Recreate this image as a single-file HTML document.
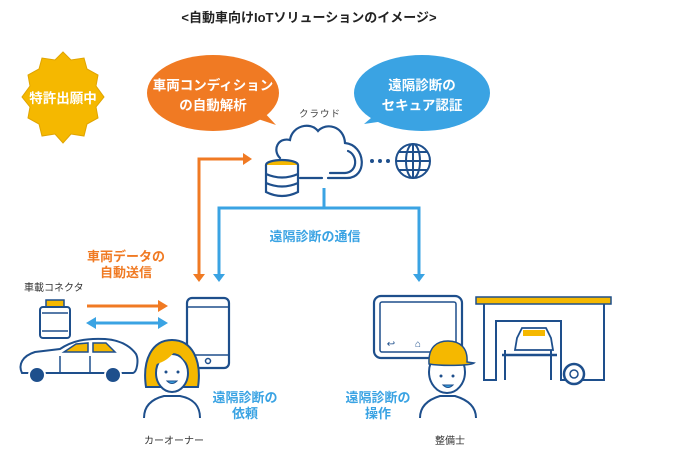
<!DOCTYPE html>
<html><head><meta charset="utf-8"><style>
body{margin:0;background:#fff;}
svg{display:block;font-family:"Liberation Sans","Noto Sans CJK JP",sans-serif;}
</style></head><body>
<svg width="680" height="466" viewBox="0 0 680 466" xmlns="http://www.w3.org/2000/svg">
<text x="309" y="22" font-size="13" font-weight="bold" text-anchor="middle" fill="#222">&lt;自動車向けIoTソリューションのイメージ&gt;</text>

<!-- badge -->
<polygon fill="#f5b800" stroke="#e0a400" points="
63,52 71,60 84,58 87,69 98,75 96,86 104,97 96,107 98,118 87,124 84,136 71,134 63,143 55,134 42,136 39,124 28,118 30,107 22,97 30,86 28,75 39,69 42,58 55,60"/>
<text x="63" y="103" font-size="13.5" font-weight="bold" fill="#fff" text-anchor="middle">特許出願中</text>

<!-- orange bubble -->
<ellipse cx="213" cy="93" rx="66" ry="38" fill="#f07a23"/>
<path d="M255,118 L276,125 L262,110z" fill="#f07a23"/>
<text x="213" y="90" font-size="13.5" font-weight="bold" fill="#fff" text-anchor="middle">車両コンディション</text>
<text x="213" y="110" font-size="13.5" font-weight="bold" fill="#fff" text-anchor="middle">の自動解析</text>

<!-- blue bubble -->
<ellipse cx="422" cy="93" rx="68" ry="38" fill="#3aa3e3"/>
<path d="M378,112 L364,124 L392,120z" fill="#3aa3e3"/>
<text x="422" y="90" font-size="13.5" font-weight="bold" fill="#fff" text-anchor="middle">遠隔診断の</text>
<text x="422" y="110" font-size="13.5" font-weight="bold" fill="#fff" text-anchor="middle">セキュア認証</text>

<text x="320" y="117" font-size="9.5" fill="#444" text-anchor="middle" letter-spacing="1">クラウド</text>

<!-- cloud -->
<g fill="none" stroke="#1e4f8c" stroke-width="2.2" stroke-linecap="round">
<path d="M280,158 C272,150 278,137 290,140 C292,126 310,121 318,131 C326,122 344,126 345,143 C366,145 368,178 347,178 L328,178"/>
<path d="M348,151 C358,155 358,172 345,173 L330,173"/>
<line x1="300" y1="178" x2="322" y2="178"/>
</g>
<g stroke="#1e4f8c" stroke-width="2.2">
<ellipse cx="282" cy="165" rx="16" ry="5" fill="#f5b800"/>
<path d="M266,165 L266,192 Q282,200 298,192 L298,165" fill="#fff"/>
<path d="M266,174 Q282,181 298,174 M266,183 Q282,190 298,183" fill="none"/>
</g>
<g fill="#1e4f8c"><circle cx="372" cy="161" r="2"/><circle cx="380" cy="161" r="2"/><circle cx="388" cy="161" r="2"/></g>
<g fill="none" stroke="#1e4f8c" stroke-width="2">
<circle cx="413" cy="161" r="17"/>
<ellipse cx="413" cy="161" rx="7" ry="17"/>
<line x1="413" y1="144" x2="413" y2="178"/>
<line x1="396" y1="161" x2="430" y2="161"/>
<path d="M399,152 H427 M399,170 H427"/>
</g>

<!-- arrows -->
<polyline points="199,276 199,159 244,159" fill="none" stroke="#f07a23" stroke-width="3"/>
<path d="M243,153 L252,159 L243,165z" fill="#f07a23"/>
<path d="M193,274 L205,274 L199,282z" fill="#f07a23"/>
<g fill="none" stroke="#3aa3e3" stroke-width="3">
<line x1="324" y1="188" x2="324" y2="208"/>
<polyline points="219,276 219,208 419,208 419,276"/>
</g>
<path d="M213,274 L225,274 L219,282z M413,274 L425,274 L419,282z" fill="#3aa3e3"/>
<text x="315" y="241" font-size="13" font-weight="bold" fill="#3aa3e3" text-anchor="middle">遠隔診断の通信</text>
<text x="126" y="261" font-size="13" font-weight="bold" fill="#f07a23" text-anchor="middle">車両データの</text>
<text x="126" y="277" font-size="13" font-weight="bold" fill="#f07a23" text-anchor="middle">自動送信</text>

<text x="24" y="291" font-size="10" fill="#333">車載コネクタ</text>
<!-- connector -->
<rect x="46" y="300" width="18" height="7" fill="#f5b800" stroke="#1e4f8c" stroke-width="1.5"/>
<rect x="40" y="307" width="30" height="31" rx="3" fill="#fff" stroke="#1e4f8c" stroke-width="2"/>
<line x1="42" y1="313" x2="68" y2="313" stroke="#1e4f8c" stroke-width="1.5"/>
<line x1="42" y1="331" x2="68" y2="331" stroke="#1e4f8c" stroke-width="1.5"/>
<line x1="87" y1="306" x2="160" y2="306" stroke="#f07a23" stroke-width="3"/>
<path d="M158,300 L168,306 L158,312z" fill="#f07a23"/>
<line x1="94" y1="323" x2="160" y2="323" stroke="#3aa3e3" stroke-width="3"/>
<path d="M158,317 L168,323 L158,329z M96,317 L86,323 L96,329z" fill="#3aa3e3"/>

<!-- phone -->
<rect x="187" y="298" width="42" height="70" rx="5" fill="#fff" stroke="#1e4f8c" stroke-width="2.2"/>
<line x1="187" y1="307" x2="229" y2="307" stroke="#1e4f8c" stroke-width="1.5"/>
<line x1="187" y1="355" x2="229" y2="355" stroke="#1e4f8c" stroke-width="1.5"/>
<circle cx="208" cy="361" r="2.5" fill="none" stroke="#1e4f8c" stroke-width="1.5"/>

<!-- car -->
<path d="M22,373 C18,365 22,356 35,352 L60,349 C72,341 85,338 105,339 C120,340 130,346 136,354 C139,360 137,372 133,373 Z" fill="#fff" stroke="#1e4f8c" stroke-width="2"/>
<path d="M64,352 L76,344 L88,343 L88,352z M93,343 L106,343 L115,352 L93,352z" fill="#f5b800" stroke="#1e4f8c" stroke-width="1.5"/>
<line x1="60" y1="356" x2="60" y2="372" stroke="#1e4f8c" stroke-width="1.5"/>
<line x1="90" y1="356" x2="90" y2="372" stroke="#1e4f8c" stroke-width="1.5"/>
<circle cx="37" cy="375" r="8" fill="#1e4f8c" stroke="#fff" stroke-width="2"/>
<circle cx="113" cy="375" r="8" fill="#1e4f8c" stroke="#fff" stroke-width="2"/>

<!-- woman -->
<path d="M146,387 C142,360 152,340 172,340 C192,340 202,360 198,387 Z" fill="#f5b800" stroke="#1e4f8c" stroke-width="2"/>
<ellipse cx="172" cy="373" rx="16" ry="19" fill="#fff" stroke="#1e4f8c" stroke-width="2"/>
<path d="M156,364 C166,362 172,355 176,350 C182,358 186,362 188,364 C188,352 182,346 172,346 C162,346 156,354 156,364z" fill="#f5b800"/>
<circle cx="166" cy="372" r="1.5" fill="#1e4f8c"/><circle cx="178" cy="372" r="1.5" fill="#1e4f8c"/>
<path d="M167,381 Q172,386 177,381z" fill="#3aa3e3" stroke="#1e4f8c" stroke-width="1"/>
<path d="M144,418 C144,403 156,398 164,396 L180,396 C190,398 200,403 200,418" fill="#fff" stroke="#1e4f8c" stroke-width="2"/>
<text x="245" y="402" font-size="13" font-weight="bold" fill="#3aa3e3" text-anchor="middle">遠隔診断の</text>
<text x="245" y="418" font-size="13" font-weight="bold" fill="#3aa3e3" text-anchor="middle">依頼</text>
<text x="174" y="444" font-size="10" fill="#333" text-anchor="middle">カーオーナー</text>

<!-- tablet -->
<rect x="374" y="296" width="88" height="62" rx="7" fill="#fff" stroke="#1e4f8c" stroke-width="2.2"/>
<rect x="380" y="302" width="76" height="50" rx="2" fill="none" stroke="#1e4f8c" stroke-width="1.5"/>
<text x="391" y="347" font-size="10" fill="#1e4f8c" text-anchor="middle">↩</text>
<text x="418" y="347" font-size="10" fill="#1e4f8c" text-anchor="middle">⌂</text>

<!-- mechanic -->
<ellipse cx="447" cy="372" rx="18" ry="21" fill="#fff" stroke="#1e4f8c" stroke-width="2"/>
<path d="M429,364 C428,346 438,341 448,341 C460,341 468,348 467,362 L474,363 C470,366 440,366 429,364z" fill="#f5b800" stroke="#1e4f8c" stroke-width="1.5"/>
<circle cx="441" cy="376" r="1.5" fill="#1e4f8c"/><circle cx="453" cy="376" r="1.5" fill="#1e4f8c"/>
<path d="M443,385 Q448,390 453,385z" fill="#3aa3e3" stroke="#1e4f8c" stroke-width="1"/>
<path d="M420,418 C420,405 430,399 440,396 L455,396 C465,399 476,405 476,418" fill="#fff" stroke="#1e4f8c" stroke-width="2"/>
<text x="378" y="402" font-size="13" font-weight="bold" fill="#3aa3e3" text-anchor="middle">遠隔診断の</text>
<text x="378" y="418" font-size="13" font-weight="bold" fill="#3aa3e3" text-anchor="middle">操作</text>
<text x="450" y="444" font-size="10" fill="#333" text-anchor="middle">整備士</text>

<!-- garage -->
<rect x="476" y="297" width="135" height="7" fill="#f5b800" stroke="#1e4f8c" stroke-width="1.5"/>
<polyline points="484,304 484,380 496,380 496,321 561,321 561,380 604,380 604,304" fill="none" stroke="#1e4f8c" stroke-width="2"/>
<path d="M517,338 L522,328 L546,328 L551,338 L553,350 L515,350z" fill="#fff" stroke="#1e4f8c" stroke-width="1.8"/>
<rect x="523" y="330" width="22" height="6" fill="#f5b800"/>
<line x1="502" y1="355" x2="557" y2="355" stroke="#1e4f8c" stroke-width="2.5"/>
<line x1="505" y1="350" x2="505" y2="380" stroke="#1e4f8c" stroke-width="2"/>
<line x1="551" y1="350" x2="551" y2="380" stroke="#1e4f8c" stroke-width="2"/>
<circle cx="574" cy="374" r="10" fill="#fff" stroke="#1e4f8c" stroke-width="2.5"/>
<circle cx="574" cy="374" r="4" fill="none" stroke="#1e4f8c" stroke-width="1.5"/>
</svg>
</body></html>
